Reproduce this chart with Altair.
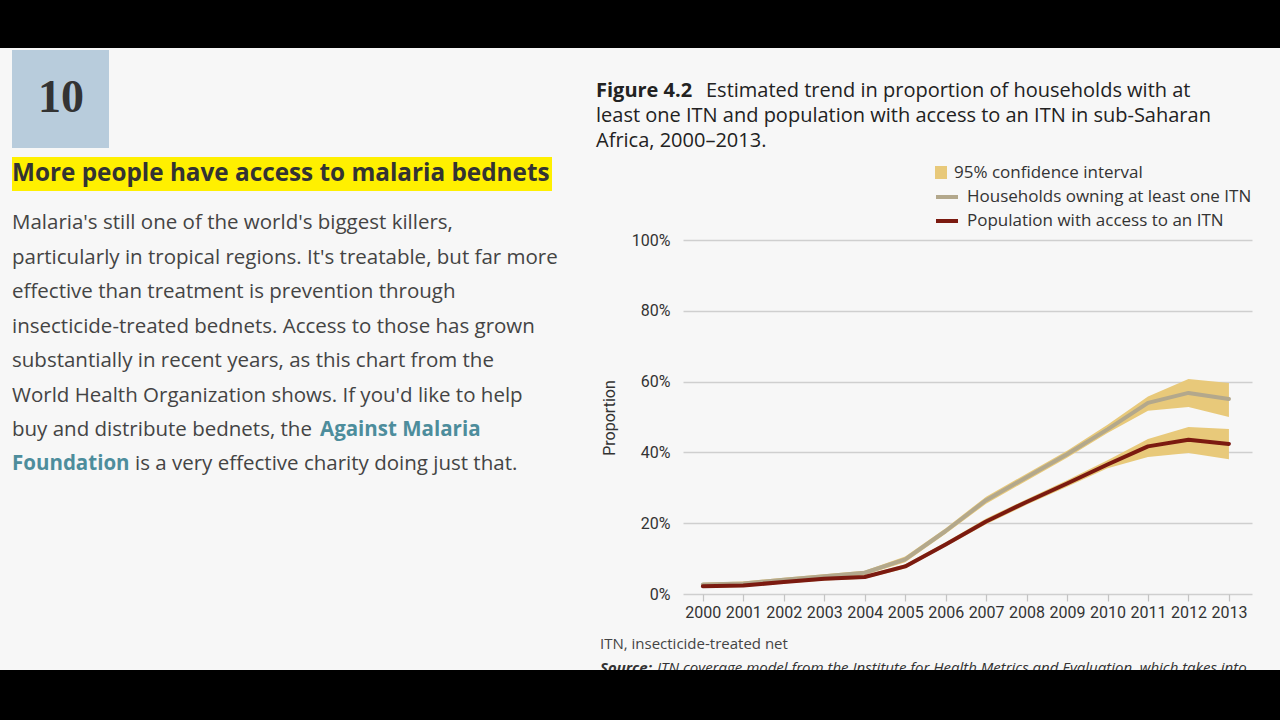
import altair as alt
import pandas as pd

# ---------------- data ----------------
years = list(range(2000, 2014))
households = [2.7, 3.0, 4.0, 5.0, 6.0, 9.8, 17.8, 26.5, 33.0, 39.5, 46.5, 54.0, 56.8, 55.1]
households_low = [2.2, 2.5, 3.4, 4.4, 5.4, 9.0, 17.0, 25.5, 32.0, 38.5, 45.5, 51.8, 52.8, 50.0]
households_high = [3.2, 3.5, 4.6, 5.6, 6.6, 10.6, 18.6, 27.5, 34.0, 40.5, 47.8, 55.8, 60.7, 59.6]
population = [2.2, 2.4, 3.4, 4.3, 4.8, 7.8, 14.0, 20.5, 26.0, 31.2, 36.6, 41.7, 43.6, 42.4]
population_low = [1.8, 2.0, 3.0, 3.8, 4.3, 7.2, 13.4, 19.7, 25.2, 30.3, 35.5, 38.7, 39.8, 38.1]
population_high = [2.6, 2.8, 3.8, 4.8, 5.3, 8.4, 14.6, 21.3, 26.8, 32.1, 37.8, 43.8, 47.2, 46.6]

series_names = ["Households owning at least one ITN", "Population with access to an ITN"]
band_label = "95% confidence interval"
y_ticks = [0, 0.2, 0.4, 0.6, 0.8, 1.0]

rows = []
for name, vals, lo, hi in [
    (series_names[0], households, households_low, households_high),
    (series_names[1], population, population_low, population_high),
]:
    for yr, v, l, h in zip(years, vals, lo, hi):
        rows.append({"year": yr, "series": name, "value": v / 100, "low": l / 100, "high": h / 100})
df = pd.DataFrame(rows)

BAND = "#e8c97a"
HH = "#b3a88c"
POP = "#7b1a10"
BG = "#f7f7f7"
CHART_FONT = "Roboto"
TITLE_FONT = "Open Sans"
PAGE_FONT = "Open Sans"

W, H = 569, 354
PAD = {"left": 683, "top": 240, "right": 28, "bottom": 126}

xscale = alt.Scale(domain=[1999.51, 2013.57], nice=False, zero=False)
yscale = alt.Scale(domain=[0, 1], nice=False)

base = alt.Chart(df)

band = base.mark_area(color=BAND, opacity=1).encode(
    x=alt.X("year:Q", scale=xscale,
            axis=alt.Axis(values=years, format="d", title=None, grid=False, domain=False,
                          ticks=True, tickColor="#c4c4c4", tickSize=7, tickWidth=1.2,
                          labelFontSize=16, labelFont=CHART_FONT, labelColor="#333333",
                          labelPadding=3, labelFlush=False, labelOverlap=False)),
    y=alt.Y("low:Q", scale=yscale,
            axis=alt.Axis(values=y_ticks, format=".0%", title=None, grid=True,
                          gridColor="#cfcfcf", gridWidth=1.3, domain=False, ticks=False,
                          labelFontSize=16, labelFont=CHART_FONT, labelColor="#333333",
                          labelPadding=13)),
    y2="high:Q",
    detail="series:N",
)

lines = base.mark_line(strokeWidth=4, strokeCap="round", strokeJoin="round").encode(
    x=alt.X("year:Q", scale=xscale),
    y=alt.Y("value:Q", scale=yscale),
    color=alt.Color("series:N", scale=alt.Scale(domain=series_names, range=[HH, POP]), legend=None),
)

one = pd.DataFrame({"a": [0]})


def rect(x1, x2, y1, y2, color):
    return alt.Chart(one).mark_rect(color=color).encode(
        x=alt.value(x1 - PAD["left"]), x2=alt.value(x2 - PAD["left"]),
        y=alt.value(y1 - PAD["top"]), y2=alt.value(y2 - PAD["top"]))


def rule(x1, x2, y, color, width):
    return alt.Chart(one).mark_rule(color=color, strokeWidth=width).encode(
        x=alt.value(x1 - PAD["left"]), x2=alt.value(x2 - PAD["left"]),
        y=alt.value(y - PAD["top"]))


def txt(s, x, y, size, font=PAGE_FONT, weight="normal", color="#3a3a3a", align="left",
        baseline="middle", style="normal", angle=0):
    kw = dict(text=s, fontSize=size, font=font, fontWeight=weight, color=color,
              align=align, baseline=baseline, fontStyle=style)
    if angle:
        kw["angle"] = angle
    return alt.Chart(one).mark_text(**kw).encode(
        x=alt.value(x - PAD["left"]), y=alt.value(y - PAD["top"]))


deco = [
    # left column
    rect(12, 109, 50, 148, "#b8ccdc"),
    txt("10", 61, 98, 46, font="Liberation Serif", weight="bold", color="#333333", align="center"),
    rect(12, 552, 157, 191, "#fff000"),
    txt("More people have access to malaria bednets", 12, 174, 24.3, weight="bold", color="#333333"),
]

PS = 20.5
para = [
    "Malaria's still one of the world's biggest killers,",
    "particularly in tropical regions. It's treatable, but far more",
    "effective than treatment is prevention through",
    "insecticide-treated bednets. Access to those has grown",
    "substantially in recent years, as this chart from the",
    "World Health Organization shows. If you'd like to help",
    "buy and distribute bednets, the",
]
para_y = [223, 258, 292, 327, 361, 396, 430]
for s, yy in zip(para, para_y):
    deco.append(txt(s, 12, yy, PS, color="#444444"))
LINK = "#4d8d9c"
deco.append(txt("Against Malaria", 320, 430, PS, weight="bold", color=LINK))
deco.append(txt("Foundation", 12, 464, PS, weight="bold", color=LINK))
deco.append(txt("is a very effective charity doing just that.", 135, 464, PS, color="#444444"))

# figure title
TS = 20
deco += [
    txt("Figure 4.2", 596, 91, TS, font=TITLE_FONT, weight="bold", color="#222222"),
    txt("Estimated trend in proportion of households with at", 706, 91, TS, font=TITLE_FONT, color="#222222"),
    txt("least one ITN and population with access to an ITN in sub-Saharan", 596, 116, TS, font=TITLE_FONT, color="#222222"),
    txt("Africa, 2000\u20132013.", 596, 141, TS, font=TITLE_FONT, color="#222222"),
]

# legend
deco += [
    rect(935, 947, 166, 179, BAND),
    txt(band_label, 954, 173, 17, font=TITLE_FONT, color="#333333"),
    rule(936, 958, 197, HH, 4),
    txt(series_names[0], 967, 197, 17, font=TITLE_FONT, color="#333333"),
    rule(936, 958, 221, POP, 4),
    txt(series_names[1], 967, 221, 17, font=TITLE_FONT, color="#333333"),
]

# axis title and notes
deco += [
    txt("Proportion", 610, 418, 16, font=CHART_FONT, color="#333333", align="center", angle=270),
    txt("ITN, insecticide-treated net", 600, 644, 15, font=TITLE_FONT, color="#444444"),
    txt("Source:", 600, 673, 15, font=TITLE_FONT, weight="bold", style="italic",
        color="#333333", baseline="alphabetic"),
    txt("ITN coverage model from the Institute for Health Metrics and Evaluation, which takes into",
        657, 673, 15, font=TITLE_FONT, style="italic", color="#333333", baseline="alphabetic"),
]

# black letterbox bars (on top)
bars = [
    rect(0, 1280, 0, 48, "#000000"),
    rect(0, 1280, 670, 720, "#000000"),
]

chart = alt.layer(band, lines, *deco, *bars).properties(
    width=W, height=H,
    autosize=alt.AutoSizeParams(type="none"),
    padding=PAD,
    background=BG,
).configure_view(stroke=None, fill=BG)

chart.save("out.html", embed_options={"renderer": "svg", "actions": False})
